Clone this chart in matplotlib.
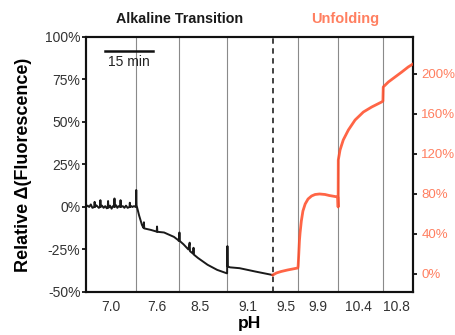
import matplotlib
matplotlib.use("Agg")
import matplotlib.pyplot as plt

plt.rcParams['font.family'] = ['Liberation Sans', 'DejaVu Sans']

# ---- data (time in minutes) ----
boundaries = [15.6, 29.1, 44.1, 66.3, 78.8, 92.8]
transition_time = 58.4
ph_positions = [7.8, 22.0, 35.5, 50.5, 62.5, 72.5, 85.0, 97.0]
ph_labels = ["7.0", "7.6", "8.5", "9.1", "9.5", "9.9", "10.4", "10.8"]

black_t = [0, 0.5, 1, 1.5, 2, 2.6, 2.7, 2.8, 3.2, 3.5, 4.0, 4.4, 4.5, 4.6, 5.0, 5.5,
           6, 6.5, 6.8, 6.9, 7, 7.5, 8, 8.4, 8.8, 8.9, 9, 9.4, 9.8, 10.2, 10.7, 10.8,
           10.9, 11.5, 12, 12.5, 13, 13.6, 13.7, 13.8, 14.2, 14.5, 15, 15.5,
           15.6, 15.7, 15.8, 16.6, 17.5, 18.0, 18.1, 18.2, 20.3, 22.1, 22.2, 22.3,
           24.4, 27.5, 28.75, 29.0,
           29.1, 29.2, 29.3, 30.5, 32, 32.4, 32.5, 33.5, 33.6, 33.7, 35, 38, 41, 44,
           44.1, 44.2, 44.3, 45, 48, 53, 58.3]
black_v = [0, 0.8, 0, 1.5, -0.5, 0, 3, 0, 1, 0.5, -0.5, 0, 4, 0, 0.8, -0.5,
           0.5, -0.8, 0, 3.5, -0.5, 0.8, -1, 0.5, 0, 5, 0, 1, -0.5, 0.5, 0, 4,
           0, 0.5, -0.5, 0.8, -0.5, 0, 2.5, 0, 0.5, 0, 0.5, 0,
           0, 10, 1, -5, -10.6, -12.4, -9, -12.6, -13.5, -14.5, -11.5, -14.6,
           -15, -17.6, -19.4, -20,
           -20, -15, -20, -22, -25, -21, -26, -27.5, -24, -28, -30, -34, -37, -39,
           -39, -23, -35, -35.5, -36, -38, -40]

orange_t = [58.4, 59.5, 61, 63, 66.2,
            66.3, 66.5, 66.7, 66.9, 67.3, 67.8, 68.5, 69.4, 70.5, 71.6, 73, 74.7,
            76, 77.8, 78.7,
            78.8, 78.85, 79.4, 80.4, 82.0, 84.1, 86.7, 89.3, 92.4, 92.8,
            92.9, 94.5, 96.6, 98.7, 100.7, 102.2]
orange_v = [-1, 1, 2.5, 4, 6,
            8, 20, 33, 41, 53, 63, 70, 75, 78, 79.5, 80, 79.5,
            78.5, 77.5, 77,
            67, 114, 124, 134, 144, 154, 162, 167, 172, 173,
            187, 192, 197, 202, 207, 210]

left_ticks = [-50, -25, 0, 25, 50, 75, 100]
right_ticks = [0, 40, 80, 120, 160, 200]

orange = '#ff4a26'
orange_light = '#ff7f60'

fig = plt.figure(figsize=(4.56, 3.35), dpi=100)
ax = fig.add_axes([0.1886, 0.1284, 0.7171, 0.7612])
ax.set_xlim(0, 102.2)
ax.set_ylim(-50, 100)

for b in boundaries:
    ax.axvline(b, color='#8a8a8a', lw=0.8, zorder=1)
ax.axvline(transition_time, color='#333333', lw=1.3, ls=(0, (3, 2.5)), zorder=1)

ax.plot(black_t, black_v, color='#1a1a1a', lw=1.4, zorder=3)

ax.set_yticks(left_ticks)
ax.set_yticklabels([f"{v}%" for v in left_ticks])
ax.set_xticks(ph_positions)
ax.set_xticklabels(ph_labels)
ax.tick_params(axis='x', length=0, pad=6, labelsize=10, labelcolor='#333333')
ax.tick_params(axis='y', direction='out', length=3, width=1.2, labelsize=10,
               labelcolor='#333333', pad=1)
for s in ax.spines.values():
    s.set_linewidth(1.5)
    s.set_color('#111111')

ax2 = ax.twinx()
ax2.set_ylim(-18, 237)
ax2.plot(orange_t, orange_v, color=orange, lw=2.0, alpha=0.85, zorder=3)
ax2.set_yticks(right_ticks)
ax2.set_yticklabels([f"{v}%" for v in right_ticks])
ax2.tick_params(axis='y', direction='out', length=3, width=1.2, labelsize=9.5,
                labelcolor=orange_light, pad=3)
for s in ax2.spines.values():
    s.set_linewidth(1.5)
    s.set_color('#111111')

# scale bar
ax.plot([5.9, 20.9], [91.8, 91.8], color='#111111', lw=1.8, clip_on=False)
ax.text(13.4, 89.5, "15 min", ha='center', va='top', fontsize=10, color='#222222')

ax.set_ylabel("Relative \u0394(Fluorescence)", fontsize=13, fontweight='bold', labelpad=9)
ax.set_xlabel("pH", fontsize=12.5, fontweight='bold', labelpad=1)

fig.text(180 / 456, 1 - 19 / 335, "Alkaline Transition", ha='center', va='center',
         fontsize=10.3, fontweight='bold', color='#1a1a1a')
fig.text(345 / 456, 1 - 19 / 335, "Unfolding", ha='center', va='center',
         fontsize=10.5, fontweight='bold', color=orange_light)

fig.savefig("out.png", dpi=100)
